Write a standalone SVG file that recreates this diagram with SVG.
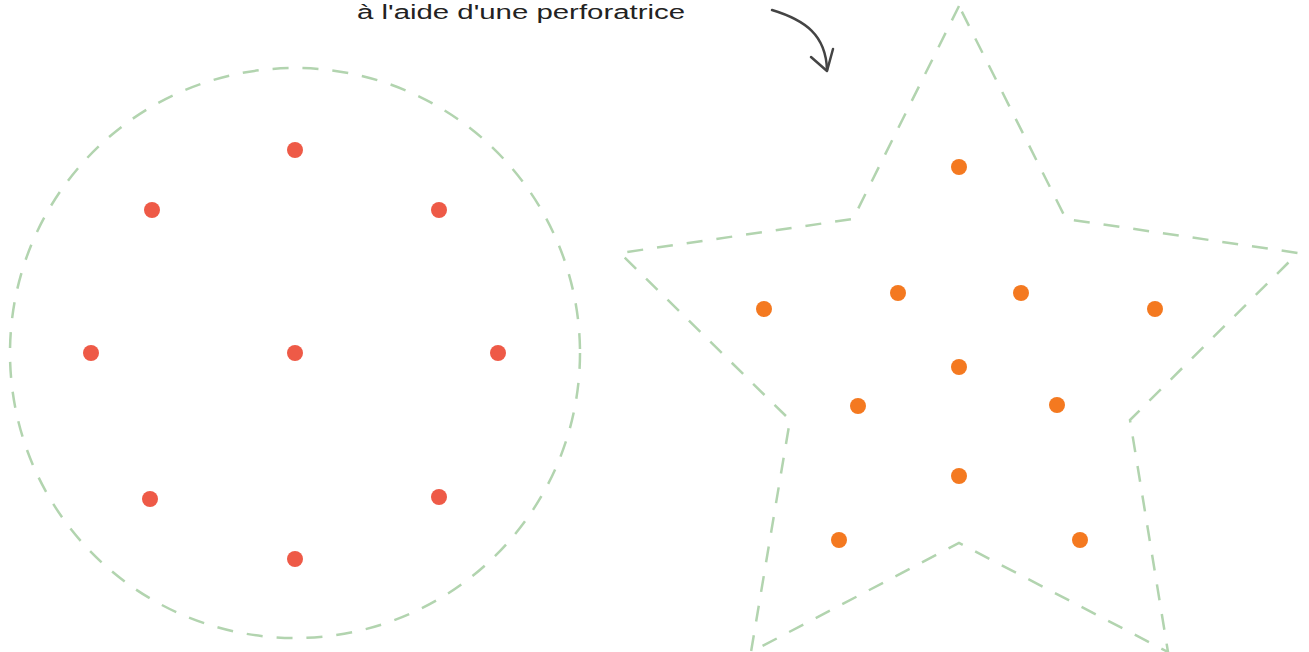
<svg xmlns="http://www.w3.org/2000/svg" width="1309" height="652" viewBox="0 0 1309 652">
<style>
.shape{fill:none;stroke:#b2d4af;stroke-width:2.5;stroke-dasharray:16 14;stroke-linejoin:miter}
.red{fill:#ee5a47}
.orange{fill:#f47920}
.note{font-family:"Liberation Sans",Arial,sans-serif;font-size:20px;fill:#222}
.conn{fill:none;stroke:#444;stroke-width:2.5;stroke-linecap:round;stroke-linejoin:round}
</style>
<rect width="1309" height="652" fill="#fff"/>
<g id="circle-shape">
<ellipse class="shape" cx="295" cy="353" rx="285" ry="285"/>
</g>
<g id="star-shape">
<polygon class="shape" points="959,6 853,219 620,253 790,420 751,652 959,543 1168,652 1130,420 1298,253 1066,219"/>
</g>
<g id="circle-holes">
<circle class="red" cx="295" cy="150" r="8"/>
<circle class="red" cx="152" cy="210" r="8"/>
<circle class="red" cx="439" cy="210" r="8"/>
<circle class="red" cx="91" cy="353" r="8"/>
<circle class="red" cx="295" cy="353" r="8"/>
<circle class="red" cx="498" cy="353" r="8"/>
<circle class="red" cx="150" cy="499" r="8"/>
<circle class="red" cx="439" cy="497" r="8"/>
<circle class="red" cx="295" cy="559" r="8"/>
</g>
<g id="star-holes">
<circle class="orange" cx="959" cy="167" r="8"/>
<circle class="orange" cx="898" cy="293" r="8"/>
<circle class="orange" cx="1021" cy="293" r="8"/>
<circle class="orange" cx="764" cy="309" r="8"/>
<circle class="orange" cx="1155" cy="309" r="8"/>
<circle class="orange" cx="959" cy="367" r="8"/>
<circle class="orange" cx="858" cy="406" r="8"/>
<circle class="orange" cx="1057" cy="405" r="8"/>
<circle class="orange" cx="959" cy="476" r="8"/>
<circle class="orange" cx="839" cy="540" r="8"/>
<circle class="orange" cx="1080" cy="540" r="8"/>
</g>
<g id="note">
<text class="note" x="357" y="19" textLength="328" lengthAdjust="spacingAndGlyphs">à l'aide d'une perforatrice</text>
</g>
<g id="connectors">
<path class="conn" d="M772,10 C805,20 826,35 827,70"/>
<path class="conn" d="M811,57 L827,71 L833,49"/>
</g>
</svg>
